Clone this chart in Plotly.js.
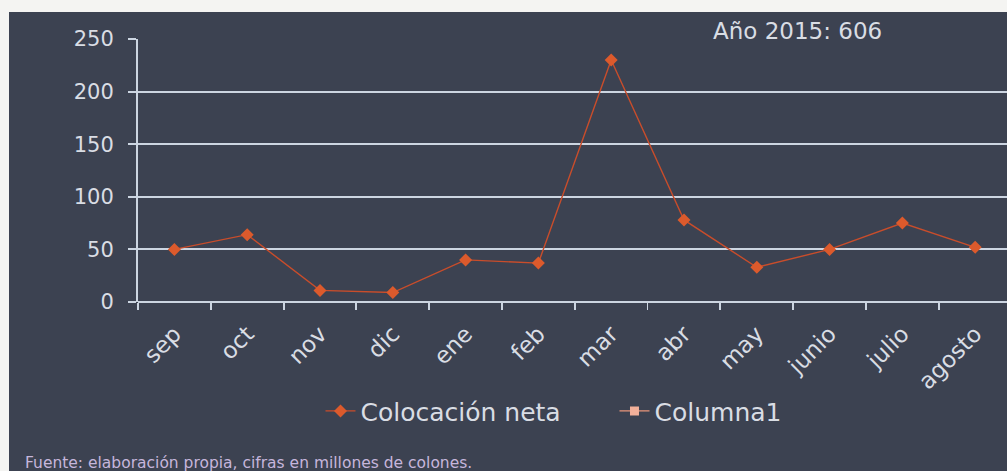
<!DOCTYPE html>
<html>
<head>
<meta charset="utf-8">
<script src="https://cdn.plot.ly/plotly-3.0.1.min.js"></script>
<style>
  html, body { margin: 0; padding: 0; background: #f4f4f2; width: 1007px; height: 471px; overflow: hidden; }
  #chart { position: absolute; left: 9px; top: 12px; width: 998px; height: 459px; }
</style>
</head>
<body>
<div id="chart"></div>
<script>
const months = ["sep", "oct", "nov", "dic", "ene", "feb", "mar", "abr", "may", "junio", "julio", "agosto"];
const colocacionNeta = [50, 64, 11, 9, 40, 37, 230, 78, 33, 50, 75, 52];
const columna1 = [null, null, null, null, null, null, null, null, null, null, null, null];
const yTicks = [0, 50, 100, 150, 200, 250];
const noteText = "Año 2015: 606";
const sourceText = "Fuente: elaboración propia, cifras en millones de colones.";

const textColor = "#d9dde4";
const gridColor = "#ccd5e1";
const font = "DejaVu Sans, sans-serif";

const traces = [
  {
    x: months, y: colocacionNeta, name: "Colocación neta",
    type: "scatter", mode: "lines+markers",
    line: { color: "#c94d2b", width: 1.4 },
    marker: { symbol: "diamond", size: 10, color: "#dc5a2c" }
  },
  {
    x: months, y: columna1, name: "Columna1",
    type: "scatter", mode: "lines+markers",
    line: { color: "#e8957a", width: 1.4 },
    marker: { symbol: "square", size: 9, color: "#f2b09a" }
  }
];

const layout = {
  width: 998, height: 459,
  paper_bgcolor: "#3c4251", plot_bgcolor: "#3c4251",
  margin: { l: 129, r: 0, t: 26.5, b: 169.3 },
  font: { family: font, color: textColor },
  showlegend: true,
  legend: {
    orientation: "h", x: 0.21, xanchor: "left", y: -0.415, yanchor: "middle",
    font: { size: 25, color: textColor, family: font },
    bgcolor: "rgba(0,0,0,0)", itemwidth: 30, traceorder: "normal",
    entrywidth: 249, entrywidthmode: "pixels"
  },
  xaxis: {
    type: "category", categoryorder: "array", categoryarray: months,
    range: [-0.5, 11.437],
    showgrid: false, zeroline: false, showline: false,
    ticks: "outside", tickson: "boundaries", ticklen: 7, tickwidth: 1.8, tickcolor: gridColor,
    ticklabelstandoff: 13,
    tickangle: -45, tickfont: { size: 23, color: textColor, family: font },
    fixedrange: true
  },
  yaxis: {
    range: [0, 250], tickvals: yTicks, ticktext: yTicks.map(String),
    showgrid: true, gridcolor: gridColor, gridwidth: 2,
    zeroline: true, zerolinecolor: gridColor, zerolinewidth: 2,
    showline: true, linecolor: gridColor, linewidth: 2,
    ticks: "outside", ticklen: 8, tickwidth: 2, tickcolor: gridColor,
    ticklabelstandoff: 10,
    tickfont: { size: 21, color: textColor, family: font },
    fixedrange: true
  },
  annotations: [
    {
      text: noteText, xref: "paper", yref: "paper",
      x: (797 - 138) / 869, y: 1.03, xanchor: "center", yanchor: "middle",
      showarrow: false, font: { size: 23, color: textColor, family: font }
    },
    {
      text: sourceText, xref: "paper", yref: "paper",
      x: (23 - 138) / 869, y: (289.7 - 451) / 263.2, xanchor: "left", yanchor: "middle",
      showarrow: false, font: { size: 15.5, color: "#c6b6dc", family: font }
    }
  ]
};

Plotly.newPlot("chart", traces, layout, { displayModeBar: false, staticPlot: true });
</script>
</body>
</html>
